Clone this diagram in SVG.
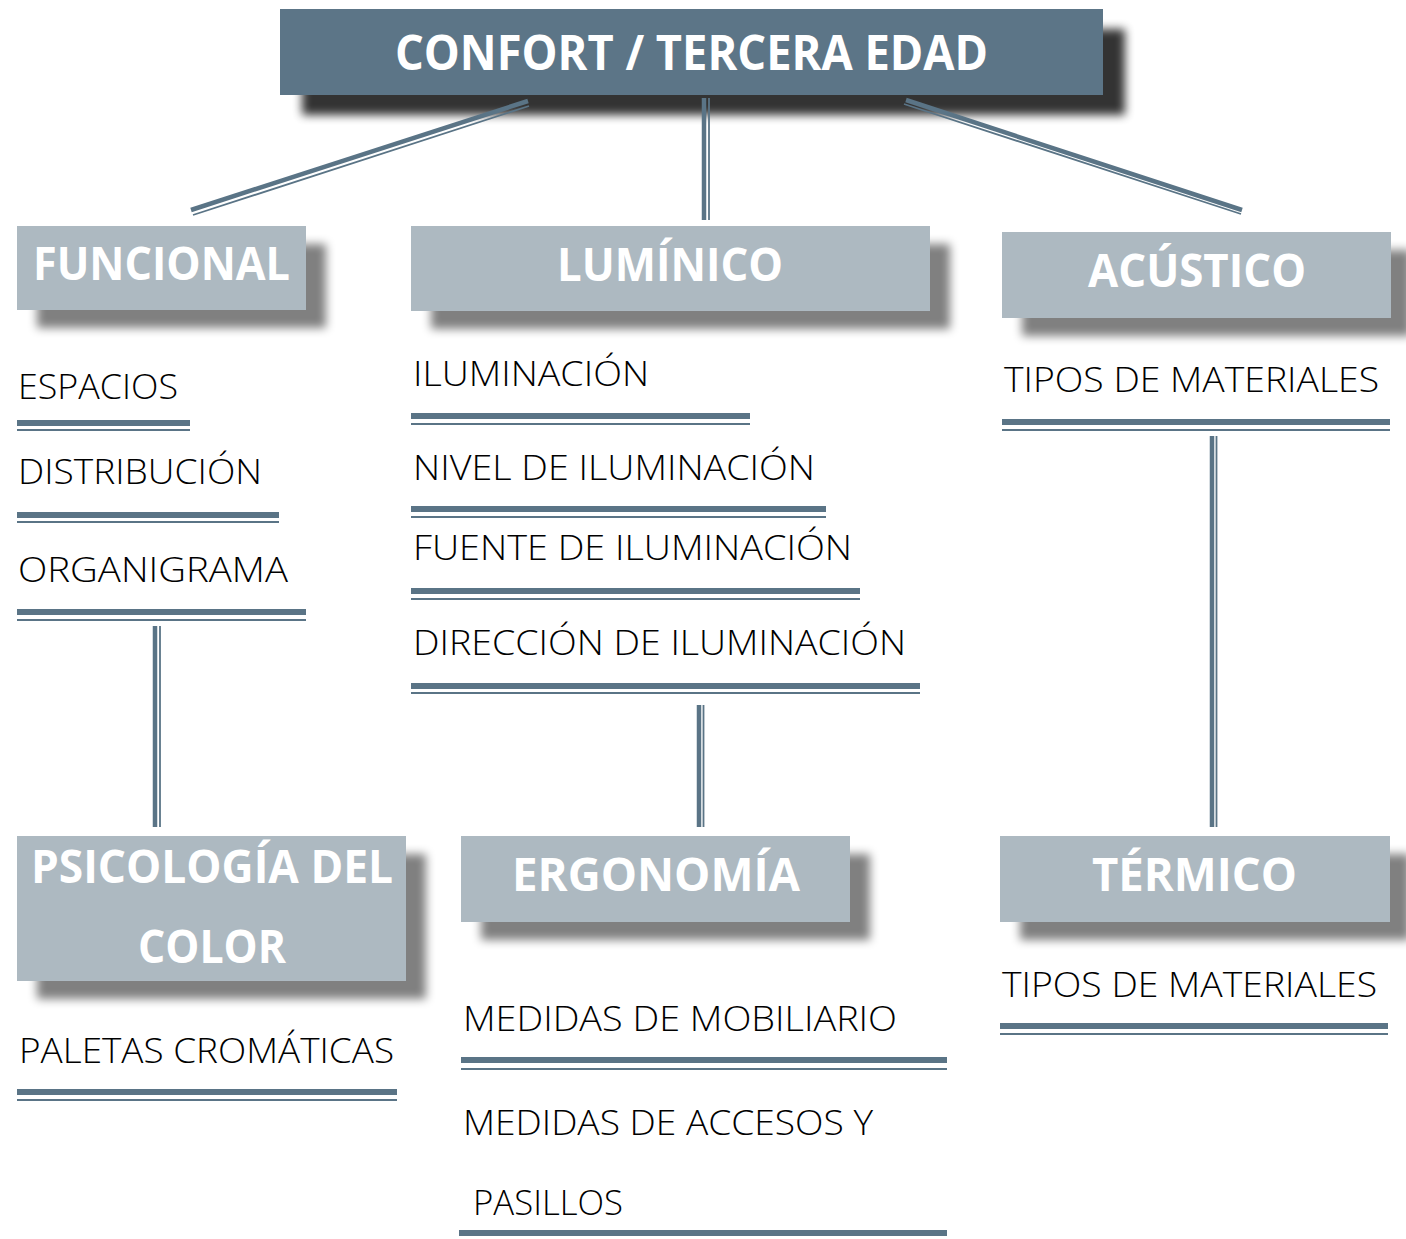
<svg xmlns="http://www.w3.org/2000/svg" width="1406" height="1239" viewBox="0 0 1406 1239">
<defs>
<filter id="shDark" x="-5%" y="-30%" width="115%" height="190%">
<feGaussianBlur in="SourceAlpha" stdDeviation="5"/>
<feOffset dx="22" dy="20"/>
<feComponentTransfer><feFuncA type="linear" slope="0.8"/></feComponentTransfer>
<feMerge><feMergeNode/><feMergeNode in="SourceGraphic"/></feMerge>
</filter>
<filter id="shLight" x="-10%" y="-30%" width="130%" height="190%">
<feGaussianBlur in="SourceAlpha" stdDeviation="5"/>
<feOffset dx="20" dy="18"/>
<feComponentTransfer><feFuncA type="linear" slope="0.5"/></feComponentTransfer>
<feMerge><feMergeNode/><feMergeNode in="SourceGraphic"/></feMerge>
</filter>
</defs>
<style>
.title{fill:#5b7587;}
.box{fill:#adb9c1;}
.hd{font-family:"Open Sans","Liberation Sans",sans-serif;font-weight:700;fill:#ffffff;}
.it{font-family:"Open Sans","Liberation Sans",sans-serif;font-weight:300;fill:#000000;font-size:35px;}
.thk{fill:#5a7486;}
.thn{fill:#5a7486;}
.cthk{stroke:#5a7486;stroke-width:4.5;fill:none;}
.cthn{stroke:#5a7486;stroke-width:1.8;fill:none;}
</style>
<rect width="1406" height="1239" fill="#ffffff"/>

<g id="confort">
<rect class="title" x="280" y="9" width="823" height="86" filter="url(#shDark)"/>
<text class="hd" x="395" y="70" font-size="48" textLength="593" lengthAdjust="spacingAndGlyphs">CONFORT / TERCERA EDAD</text>
</g>

<g id="funcional">
<rect class="box" x="17" y="226" width="289" height="84" filter="url(#shLight)"/>
<text class="hd" x="33" y="280" font-size="46" textLength="257" lengthAdjust="spacingAndGlyphs">FUNCIONAL</text>
<text class="it" x="18" y="399" textLength="160" lengthAdjust="spacingAndGlyphs">ESPACIOS</text>
<rect class="thk" x="17" y="420" width="173" height="6"/>
<rect class="thn" x="17" y="429" width="173" height="2"/>
<text class="it" x="18" y="484" textLength="244" lengthAdjust="spacingAndGlyphs">DISTRIBUCIÓN</text>
<rect class="thk" x="17" y="512" width="262" height="6"/>
<rect class="thn" x="17" y="521" width="262" height="2"/>
<text class="it" x="18" y="582" textLength="270" lengthAdjust="spacingAndGlyphs">ORGANIGRAMA</text>
<rect class="thk" x="17" y="609" width="289" height="6"/>
<rect class="thn" x="17" y="619" width="289" height="2"/>
</g>

<g id="luminico">
<rect class="box" x="411" y="226" width="519" height="85" filter="url(#shLight)"/>
<text class="hd" x="557" y="281" font-size="46" textLength="226" lengthAdjust="spacingAndGlyphs">LUMÍNICO</text>
<text class="it" x="413" y="386" textLength="236" lengthAdjust="spacingAndGlyphs">ILUMINACIÓN</text>
<rect class="thk" x="411" y="413" width="339" height="6"/>
<rect class="thn" x="411" y="423" width="339" height="2"/>
<text class="it" x="413" y="480" textLength="402" lengthAdjust="spacingAndGlyphs">NIVEL DE ILUMINACIÓN</text>
<rect class="thk" x="411" y="506" width="415" height="6"/>
<rect class="thn" x="411" y="516" width="415" height="2"/>
<text class="it" x="413" y="560" textLength="439" lengthAdjust="spacingAndGlyphs">FUENTE DE ILUMINACIÓN</text>
<rect class="thk" x="411" y="588" width="449" height="6"/>
<rect class="thn" x="411" y="598" width="449" height="2"/>
<text class="it" x="413" y="655" textLength="493" lengthAdjust="spacingAndGlyphs">DIRECCIÓN DE ILUMINACIÓN</text>
<rect class="thk" x="411" y="683" width="509" height="6"/>
<rect class="thn" x="411" y="692" width="509" height="2"/>
</g>

<g id="acustico">
<rect class="box" x="1002" y="232" width="389" height="86" filter="url(#shLight)"/>
<text class="hd" x="1088" y="287" font-size="46" textLength="218" lengthAdjust="spacingAndGlyphs">ACÚSTICO</text>
<text class="it" x="1004" y="392" textLength="375" lengthAdjust="spacingAndGlyphs">TIPOS DE MATERIALES</text>
<rect class="thk" x="1002" y="419" width="388" height="6"/>
<rect class="thn" x="1002" y="429" width="388" height="2"/>
</g>

<g id="psicologia">
<rect class="box" x="17" y="836" width="389" height="145" filter="url(#shLight)"/>
<text class="hd" x="31" y="883" font-size="46" textLength="362" lengthAdjust="spacingAndGlyphs">PSICOLOGÍA DEL</text>
<text class="hd" x="138" y="963" font-size="46" textLength="148" lengthAdjust="spacingAndGlyphs">COLOR</text>
<text class="it" x="19" y="1063" textLength="375" lengthAdjust="spacingAndGlyphs">PALETAS CROMÁTICAS</text>
<rect class="thk" x="17" y="1089" width="380" height="6"/>
<rect class="thn" x="17" y="1099" width="380" height="2"/>
</g>

<g id="ergonomia">
<rect class="box" x="461" y="836" width="389" height="86" filter="url(#shLight)"/>
<text class="hd" x="512" y="891" font-size="46" textLength="288" lengthAdjust="spacingAndGlyphs">ERGONOMÍA</text>
<text class="it" x="463" y="1031" textLength="434" lengthAdjust="spacingAndGlyphs">MEDIDAS DE MOBILIARIO</text>
<rect class="thk" x="461" y="1057" width="486" height="6"/>
<rect class="thn" x="461" y="1068" width="486" height="2"/>
<text class="it" x="463" y="1135" textLength="410" lengthAdjust="spacingAndGlyphs">MEDIDAS DE ACCESOS Y</text>
<text class="it" x="473" y="1215" textLength="150" lengthAdjust="spacingAndGlyphs">PASILLOS</text>
<rect class="thk" x="459" y="1230" width="488" height="6"/>
</g>

<g id="termico">
<rect class="box" x="1000" y="836" width="390" height="86" filter="url(#shLight)"/>
<text class="hd" x="1092" y="891" font-size="46" textLength="205" lengthAdjust="spacingAndGlyphs">TÉRMICO</text>
<text class="it" x="1002" y="997" textLength="375" lengthAdjust="spacingAndGlyphs">TIPOS DE MATERIALES</text>
<rect class="thk" x="1000" y="1023" width="388" height="6"/>
<rect class="thn" x="1000" y="1033" width="388" height="2"/>
</g>

<g id="connectors">
<line class="cthk" x1="191" y1="210" x2="528" y2="101"/>
<line class="cthn" x1="193" y1="215" x2="529" y2="106"/>
<line class="cthk" x1="906" y1="100" x2="1242" y2="210"/>
<line class="cthn" x1="904" y1="104" x2="1241" y2="214"/>
<line class="cthk" x1="704" y1="98" x2="704" y2="220"/>
<line class="cthn" x1="709" y1="98" x2="709" y2="220"/>
<line class="cthk" x1="155" y1="626" x2="155" y2="827"/>
<line class="cthn" x1="160" y1="626" x2="160" y2="827"/>
<line class="cthk" x1="699" y1="705" x2="699" y2="827"/>
<line class="cthn" x1="703.5" y1="705" x2="703.5" y2="827"/>
<line class="cthk" x1="1212" y1="436" x2="1212" y2="827"/>
<line class="cthn" x1="1216.5" y1="436" x2="1216.5" y2="827"/>
</g>
</svg>
